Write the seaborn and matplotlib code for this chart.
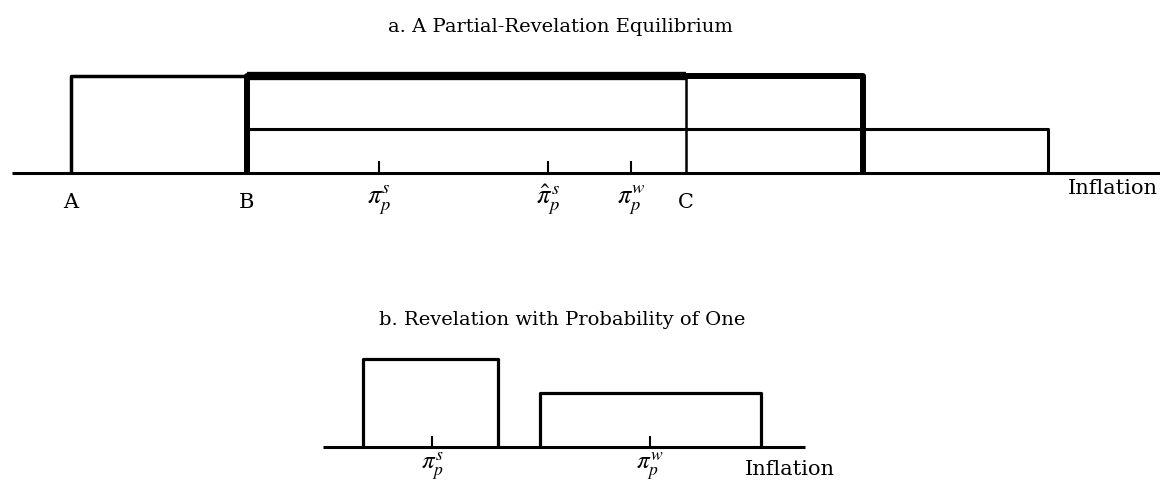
import matplotlib
matplotlib.use("Agg")
import matplotlib.pyplot as plt
import pandas as pd
import seaborn as sns

# ---- panel a: A Partial-Revelation Equilibrium (inflation axis, arbitrary units)
a_axis_span = [1.2, 116.0]
a_point_names = ["A", "B", "C"]
a_point_x = [7.1, 24.7, 68.6]
a_pi_names = [r"$\pi_p^s$", r"$\hat{\pi}_p^{\,s}$", r"$\pi_p^w$"]
a_pi_x = [37.9, 54.8, 63.1]
a_box_left = [7.1, 24.7, 24.7]
a_box_right = [24.7, 86.3, 104.8]
a_box_height = [1.0, 1.0, 0.45]
a_c_height = 1.0

# ---- panel b: Revelation with Probability of One
b_axis_span = [32.3, 80.5]
b_pi_names = [r"$\pi_p^s$", r"$\pi_p^w$"]
b_pi_x = [43.2, 65.0]
b_box_left = [36.3, 54.0]
b_box_right = [49.8, 76.1]
b_box_height = [0.91, 0.56]

# line widths (style only)
a_box_lw = [2.5, 4.3, 2.2]
b_box_lw = [2.3, 2.3]
TICK_H = 0.12

sns.set_theme(style="white")
plt.rcParams["font.family"] = ["DejaVu Serif"]
plt.rcParams["mathtext.fontset"] = "stix"
plt.rcParams["text.color"] = "black"


def box_frame(left, right, height):
    """Open-bottom rectangle outline as a small DataFrame."""
    return pd.DataFrame({"x": [left, left, right, right],
                         "y": [0, height, height, 0]})


def draw_line(ax, xs, ys, lw):
    sns.lineplot(x=xs, y=ys, sort=False, estimator=None, color="black",
                 linewidth=lw, ax=ax, solid_capstyle="butt")


def draw_axis(ax, span, ticks):
    draw_line(ax, span, [0, 0], 2.2)
    for t in ticks:
        draw_line(ax, [t, t], [0, TICK_H], 1.5)


fig = plt.figure(figsize=(11.6, 4.85), dpi=100)

# panel a
ax_a = fig.add_axes([0, 0.541, 1, 0.36])
draw_axis(ax_a, a_axis_span, a_pi_x)
for left, right, h, lw in zip(a_box_left, a_box_right, a_box_height, a_box_lw):
    df = box_frame(left, right, h)
    draw_line(ax_a, df["x"], df["y"], lw)
# overlapping top edge between B and C reads heavier
draw_line(ax_a, [a_point_x[1], a_point_x[2]], [a_c_height, a_c_height], 6.0)
draw_line(ax_a, [a_point_x[2], a_point_x[2]], [0, a_c_height], 1.8)
for name, x in zip(a_point_names, a_point_x):
    ax_a.text(x, -0.29, name, ha="center", va="center", fontsize=15)
for name, x in zip(a_pi_names, a_pi_x):
    ax_a.text(x, -0.26, name, ha="center", va="center", fontsize=19)
ax_a.text(106.8, -0.15, "Inflation", ha="left", va="center", fontsize=15)
ax_a.set_xlim(0, 116)
ax_a.set_ylim(-0.5, 1.3)
ax_a.axis("off")

# panel b
ax_b = fig.add_axes([0, 0.006, 1, 0.29])
draw_axis(ax_b, b_axis_span, b_pi_x)
for left, right, h, lw in zip(b_box_left, b_box_right, b_box_height, b_box_lw):
    df = box_frame(left, right, h)
    draw_line(ax_b, df["x"], df["y"], lw)
for name, x in zip(b_pi_names, b_pi_x):
    ax_b.text(x, -0.19, name, ha="center", va="center", fontsize=18)
ax_b.text(74.5, -0.22, "Inflation", ha="left", va="center", fontsize=15)
ax_b.set_xlim(0, 116)
ax_b.set_ylim(-0.35, 1.1)
ax_b.axis("off")

fig.text(0.483, 0.944, "a. A Partial-Revelation Equilibrium",
         ha="center", va="center", fontsize=14)
fig.text(0.485, 0.34, "b. Revelation with Probability of One",
         ha="center", va="center", fontsize=14)

fig.savefig("out.png", dpi=100, facecolor="white")
